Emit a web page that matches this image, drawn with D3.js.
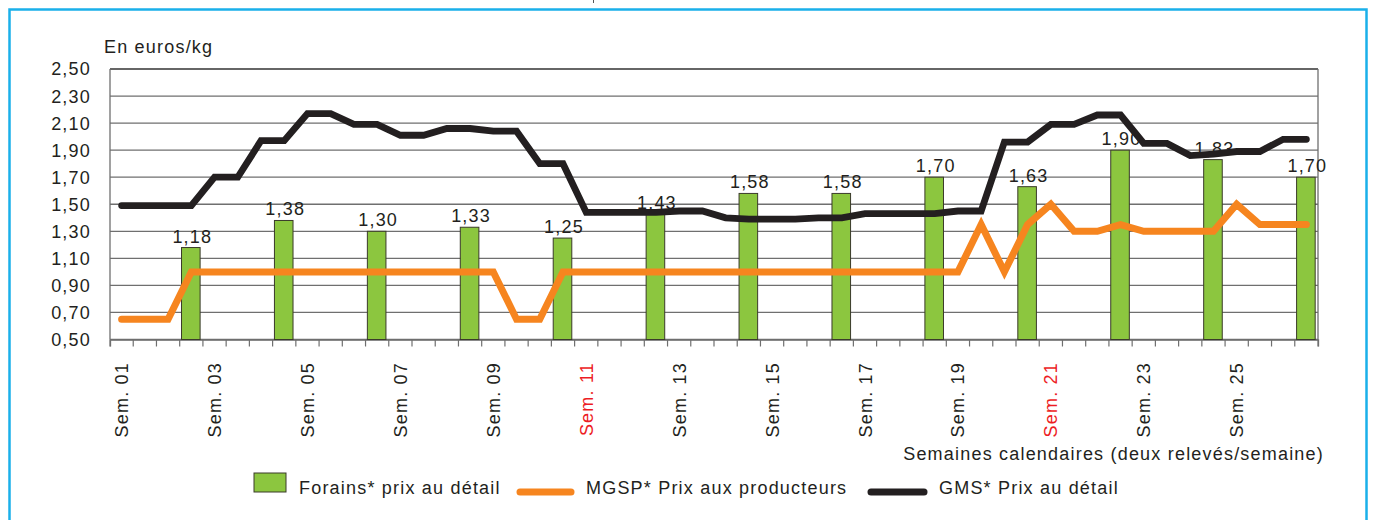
<!DOCTYPE html>
<html>
<head>
<meta charset="utf-8">
<script src="https://cdn.jsdelivr.net/npm/d3@7"></script>
<style>
  body { margin: 0; background: #fff; }
  svg text { font-family: "Liberation Sans", Arial, sans-serif; font-size: 18px; letter-spacing: 1.2px; fill: #231f20; }
</style>
</head>
<body>
<div class="chart"></div>
<script>
// semaines 01..26, deux relevés par semaine
const weeks = ['01','02','03','04','05','06','07','08','09','10','11','12','13',
  '14','15','16','17','18','19','20','21','22','23','24','25','26'];
const weekLabels = ['01','03','05','07','09','11','13','15','17','19','21','23','25'];
const redWeeks = ['11', '21'];
const yTicks = [0.5, 0.7, 0.9, 1.1, 1.3, 1.5, 1.7, 1.9, 2.1, 2.3, 2.5];

// Forains* prix au détail (un relevé sur quatre)
const forains = [null, null, null, 1.18, null, null, null, 1.38, null, null, null, 1.30,
  null, null, null, 1.33, null, null, null, 1.25, null, null, null, 1.43,
  null, null, null, 1.58, null, null, null, 1.58, null, null, null, 1.70,
  null, null, null, 1.63, null, null, null, 1.90, null, null, null, 1.83,
  null, null, null, 1.70];

// MGSP* Prix aux producteurs
const mgsp = [0.65, 0.65, 0.65, 1.00, 1.00, 1.00, 1.00, 1.00, 1.00, 1.00, 1.00, 1.00,
  1.00, 1.00, 1.00, 1.00, 1.00, 0.65, 0.65, 1.00, 1.00, 1.00, 1.00, 1.00,
  1.00, 1.00, 1.00, 1.00, 1.00, 1.00, 1.00, 1.00, 1.00, 1.00, 1.00, 1.00,
  1.00, 1.35, 1.00, 1.35, 1.50, 1.30, 1.30, 1.35, 1.30, 1.30, 1.30, 1.30,
  1.50, 1.35, 1.35, 1.35];

// GMS* Prix au détail
const gms = [1.49, 1.49, 1.49, 1.49, 1.70, 1.70, 1.97, 1.97, 2.17, 2.17, 2.09, 2.09,
  2.01, 2.01, 2.06, 2.06, 2.04, 2.04, 1.80, 1.80, 1.44, 1.44, 1.44, 1.44,
  1.45, 1.45, 1.40, 1.39, 1.39, 1.39, 1.40, 1.40, 1.43, 1.43, 1.43, 1.43,
  1.45, 1.45, 1.96, 1.96, 2.09, 2.09, 2.16, 2.16, 1.95, 1.95, 1.86, 1.87,
  1.89, 1.89, 1.98, 1.98];

const releves = weeks.flatMap(w => [w + '-1', w + '-2']);

const width = 1373, height = 520;
const plotLeft = 110, plotRight = 1318, plotTop = 69, plotBottom = 339.5;
const green = '#8cc63f', orange = '#f6851f', black = '#231f20', grid = '#6f6f6f';

const fr = d3.formatLocale({decimal: ',', thousands: ' ', grouping: [3], currency: ['', '€']});
const fmt = fr.format('.2f');

const svg = d3.select('.chart').append('svg')
  .attr('width', width)
  .attr('height', height);

// cadre bleu
svg.append('rect')
  .attr('x', 9.5).attr('y', 9.5)
  .attr('width', 1357).attr('height', 530)
  .attr('fill', 'none')
  .attr('stroke', '#1ab0ea')
  .attr('stroke-width', 2.5);
svg.append('line')
  .attr('x1', 593.5).attr('x2', 593.5).attr('y1', 0).attr('y2', 3)
  .attr('stroke', '#555');

const x = d3.scaleBand().domain(releves).range([plotLeft, plotRight]);
const y = d3.scaleLinear().domain([0.5, 2.5]).range([plotBottom, plotTop]);

// grille horizontale
svg.append('g')
  .selectAll('line')
  .data(yTicks)
  .join('line')
  .attr('x1', plotLeft).attr('x2', plotRight)
  .attr('y1', d => y(d)).attr('y2', d => y(d))
  .attr('stroke', (d, i) => i == yTicks.length - 1 ? '#333' : grid)
  .attr('stroke-width', 1.3);

// bords gauche / droit
svg.append('line')
  .attr('x1', plotLeft).attr('x2', plotLeft).attr('y1', plotTop).attr('y2', plotBottom)
  .attr('stroke', grid).attr('stroke-width', 1.3);
svg.append('line')
  .attr('x1', plotRight).attr('x2', plotRight).attr('y1', plotTop).attr('y2', plotBottom)
  .attr('stroke', grid).attr('stroke-width', 1.3);

// axe des abscisses, une graduation par relevé
const xAxis = d3.axisBottom(x).tickSize(7).tickFormat('');
const gx = svg.append('g')
  .attr('transform', `translate(0, ${plotBottom})`)
  .call(xAxis);
gx.select('.domain').attr('stroke', grid).attr('stroke-width', 1.3);
gx.selectAll('.tick line')
  .attr('stroke', grid)
  .attr('stroke-width', 1.2)
  .attr('transform', `translate(${-x.bandwidth() / 2}, 0)`);
gx.append('line')
  .attr('x1', plotRight).attr('x2', plotRight).attr('y1', 0).attr('y2', 7)
  .attr('stroke', grid).attr('stroke-width', 1.2);

// libellés des semaines
svg.append('g')
  .selectAll('text')
  .data(weekLabels)
  .join('text')
  .attr('transform', d => `translate(${x(d + '-1') + x.bandwidth() / 2 + 6.5}, 362) rotate(-90)`)
  .attr('text-anchor', 'end')
  .style('fill', d => redWeeks.includes(d) ? '#ed1c24' : black)
  .text(d => 'Sem. ' + d);

// axe des ordonnées
svg.append('g')
  .selectAll('text')
  .data(yTicks)
  .join('text')
  .attr('x', 91)
  .attr('y', d => y(d))
  .attr('dy', '0.36em')
  .attr('text-anchor', 'end')
  .text(d => fmt(d));

svg.append('text')
  .attr('x', 104).attr('y', 53)
  .text('En euros/kg');

svg.append('text')
  .attr('x', 1324).attr('y', 460)
  .attr('text-anchor', 'end')
  .text('Semaines calendaires (deux relevés/semaine)');

// barres Forains
const barW = x.bandwidth() * 0.8;
const barData = releves.map((r, i) => ({r: r, v: forains[i]})).filter(d => d.v != null);
svg.append('g')
  .selectAll('rect')
  .data(barData)
  .join('rect')
  .attr('x', d => x(d.r) + (x.bandwidth() - barW) / 2 - 0.5)
  .attr('y', d => y(d.v))
  .attr('width', barW)
  .attr('height', d => y(0.5) - y(d.v))
  .attr('fill', green)
  .attr('stroke', '#3a3a2a')
  .attr('stroke-width', 1);

// lignes
const line = d3.line()
  .x((d, i) => x(releves[i]) + x.bandwidth() / 2)
  .y(d => y(d));

svg.append('path')
  .datum(mgsp)
  .attr('d', line)
  .attr('fill', 'none')
  .attr('stroke', orange)
  .attr('stroke-width', 7)
  .attr('stroke-linecap', 'round')
  .attr('stroke-linejoin', 'miter');

svg.append('path')
  .datum(gms)
  .attr('d', line)
  .attr('fill', 'none')
  .attr('stroke', black)
  .attr('stroke-width', 6.8)
  .attr('stroke-linecap', 'round')
  .attr('stroke-linejoin', 'miter');

// étiquettes des barres
svg.append('g')
  .selectAll('text')
  .data(barData)
  .join('text')
  .attr('x', d => x(d.r) + x.bandwidth() / 2 + 1)
  .attr('y', d => y(d.v) - 5)
  .attr('text-anchor', 'middle')
  .text(d => fmt(d.v));

// légende
const legend = svg.append('g').classed('legend', true);
legend.append('rect')
  .attr('x', 254).attr('y', 473).attr('width', 32).attr('height', 19)
  .attr('fill', green).attr('stroke', '#3a3a2a').attr('stroke-width', 1);
legend.append('text').attr('x', 299).attr('y', 494).text('Forains* prix au détail');
legend.append('line')
  .attr('x1', 520).attr('x2', 571).attr('y1', 492).attr('y2', 492)
  .attr('stroke', orange).attr('stroke-width', 7).attr('stroke-linecap', 'round');
legend.append('text').attr('x', 586).attr('y', 494).text('MGSP* Prix aux producteurs');
legend.append('line')
  .attr('x1', 871).attr('x2', 924).attr('y1', 492).attr('y2', 492)
  .attr('stroke', black).attr('stroke-width', 7).attr('stroke-linecap', 'round');
legend.append('text').attr('x', 939).attr('y', 494).text('GMS* Prix au détail');
</script>
</body>
</html>
